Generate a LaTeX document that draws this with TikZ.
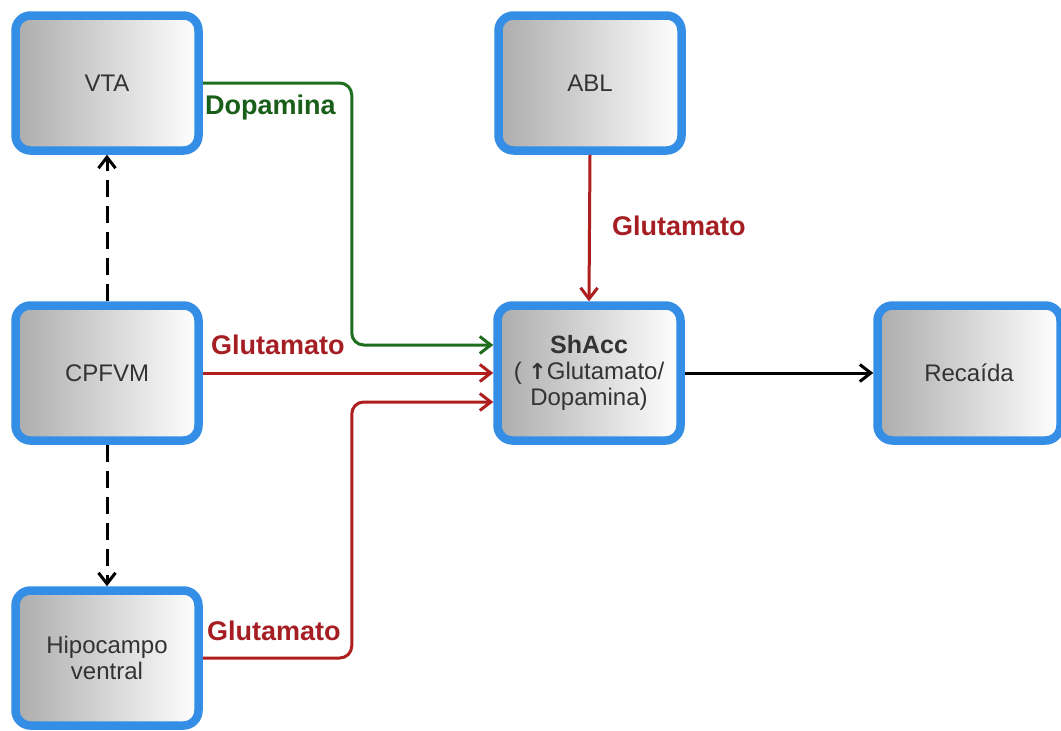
\documentclass[tikz,border=0pt]{standalone}
\usepackage{fontspec}
\setmainfont{Liberation Sans}
\newfontfamily\symfont{DejaVu Sans}
\usetikzlibrary{arrows.meta}
\definecolor{bblue}{RGB}{52,142,230}
\definecolor{lgreen}{RGB}{30,110,30}
\definecolor{tgreen}{RGB}{25,95,25}
\definecolor{lred}{RGB}{175,30,30}
\definecolor{tred}{RGB}{165,30,35}
\begin{document}
\begin{tikzpicture}[x=1pt,y=-1pt,
  box/.style={draw=bblue, line width=8.5pt, rounded corners=15pt,
    left color=gray!65, right color=white,
    minimum width=183pt, minimum height=135pt, align=center,
    font=\fontsize{24}{26}\selectfont, text=black!80},
  tip/.style={-{Straight Barb[length=11pt,width=17pt]}},
  conn/.style={line width=3pt, tip, rounded corners=12pt},
  gline/.style={conn, draw=lgreen},
  rline/.style={conn, draw=lred},
  kline/.style={conn, draw=black},
  dline/.style={conn, draw=black, dash pattern=on 17pt off 9pt},
  lab/.style={font=\fontsize{27}{30}\selectfont\bfseries, inner sep=0pt, anchor=west}
]
\useasboundingbox[fill=white] (0,0) rectangle (1061,731);

\node[box] (vta) at (107,83) {VTA};
\node[box] (cpf) at (107,373) {CPFVM};
\node[box] (hip) at (107,658) {Hipocampo\\ventral};
\node[box] (abl) at (590,83) {ABL};
\node[box] (sha) at (589,373) {{\fontsize{25}{28}\selectfont\bfseries ShAcc}\\( {\symfont\bfseries\fontsize{22}{26}\selectfont ↑}Glutamato/\\Dopamina)};
\node[box] (rec) at (969,373) {Recaída};

% connectors
\draw[gline] (vta.east) -- ++(149,0) |- ([yshift=28pt]sha.west);
\draw[rline] (cpf.east) -- (sha.west);
\draw[rline] (hip.east) -- ++(149,0) |- ([yshift=-29pt]sha.west);
\draw[rline] (abl.south) -- (sha.north);
\draw[kline] (sha.east) -- (rec.west);
\draw[dline] (cpf.north) -- (vta.south);
\draw[dline] (cpf.south) -- (hip.north);

% labels
\node[lab, text=tgreen] (l1) at (205,108) {Dopamina};
\node[lab, text=tred] (l2) at (211,345) {Glutamato};
\node[lab, text=tred] (l3) at (207,631) {Glutamato};
\node[lab, text=tred] (l4) at (612,226) {Glutamato};
\end{tikzpicture}
\end{document}
